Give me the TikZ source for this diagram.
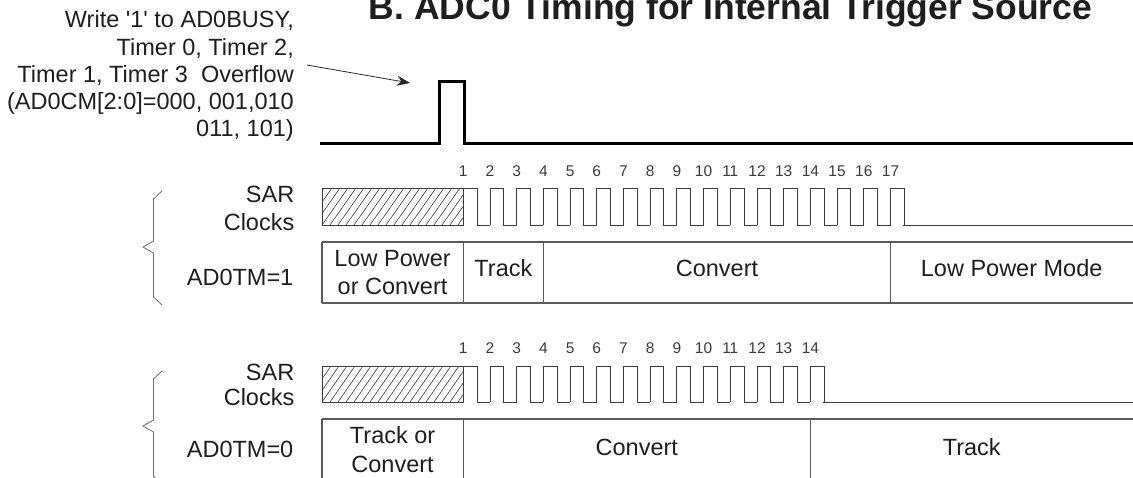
\documentclass[tikz,border=0pt]{standalone}
\usepackage{fontspec}
\setmainfont{Liberation Sans}
\usetikzlibrary{arrows.meta}
\definecolor{txt}{HTML}{1E1E1E}
\definecolor{numc}{HTML}{3A3A3A}
\definecolor{boxc}{HTML}{5A5A5A}
\definecolor{clkc}{HTML}{3C3C3C}
\definecolor{brc}{HTML}{6A6A6A}
\begin{document}
\begin{tikzpicture}[x=1pt,y=-1pt,
  lbl/.style={font=\fontsize{23.5}{27}\selectfont, text=txt, inner sep=0pt},
  ttl/.style={font=\fontsize{35.5}{40}\selectfont\bfseries, text=txt, inner sep=0pt},
  num/.style={font=\fontsize{15.5}{17}\selectfont, text=numc, inner sep=0pt, anchor=base},
  boxline/.style={draw=boxc, line width=1.3pt},
  clk/.style={draw=clkc, line width=1pt},
  hatch/.style={draw=clkc, line width=0.6pt},
  sig/.style={draw=black, line width=3pt},
  brace/.style={draw=brc, line width=0.8pt},
  arr/.style={draw=black!85, line width=0.8pt, -{Stealth[length=13pt,width=10pt]}}]
\useasboundingbox (0,0) rectangle (1133,477);
\clip (0,0) rectangle (1133,477);

% title (clipped at top, as in the reference)
\node[ttl, anchor=base] (title) at (730.5,19.5) {B. ADC0 Timing for Internal Trigger Source};

% trigger description
\node[lbl, anchor=base east] (w1) at (294,27.8) {Write \textquotesingle 1\textquotesingle\ to AD0BUSY,};
\node[lbl, anchor=base east] (w2) at (294,55) {Timer 0, Timer 2,};
\node[lbl, anchor=base east] (w3) at (294,82.2) {Timer 1, Timer 3\ \ Overflow};
\node[lbl, anchor=base east] (w4) at (294,109.4) {(AD0CM[2:0]=000, 001,010};
\node[lbl, anchor=base east] (w5) at (294,136.6) {011, 101)};

% arrow to pulse
\coordinate (arrS) at (307,65);
\coordinate (arrE) at (410,83);
\draw[arr] (arrS) -- (arrE);

% trigger signal
\coordinate (s0) at (320,143);
\coordinate (s1) at (439,143);
\coordinate (s2) at (439,81);
\coordinate (s3) at (464,81);
\coordinate (s4) at (464,143);
\coordinate (s5) at (1140,143);
\draw[sig, line join=miter] (s0) -- (s1) -- (s2) -- (s3) -- (s4) -- (s5);

% ---------- Row 1 : AD0TM=1 ----------
\node[lbl, anchor=base east] (sar1) at (294.5,202) {SAR};
\node[lbl, anchor=base east] (clk1) at (294.5,230) {Clocks};
\node[lbl, anchor=base east] (tm1) at (293.5,285) {AD0TM=1};
\draw[brace] (162,191) -- (153.5,199) -- (153.5,241) -- (143,247) -- (153.5,253) -- (153.5,297) -- (162,305);

\begin{scope}
  \clip (322,188) rectangle (463.3,225);
  \foreach \i in {-4,...,19} \draw[hatch] ({322+\i*8},225) -- ++(26,-37);
\end{scope}
\draw[clk] (322,188) rectangle (463.3,225);
\foreach \k in {0,...,16} {
  \draw[clk] ({463.3+\k*26.7},225) -- ({463.3+\k*26.7},188) -- ({477+\k*26.7},188) -- ({477+\k*26.7},225) -- ({490+\k*26.7},225);
}
\draw[clk] (903.2,225) -- (1140,225);
\foreach \k in {1,...,17} \node[num] (na\k) at ({463.3+(\k-1)*26.7},176) {\k};

\draw[boxline] (322,242) -- (1140,242);
\draw[boxline] (322,303) -- (1140,303);
\foreach \x in {322,463.3,543.4,890.5} \draw[boxline] (\x,242) -- (\x,303);
\node[lbl, align=center, font=\fontsize{23.5}{28.5}\selectfont] (a1) at (392.6,272.5) {Low Power\\or Convert};
\node[lbl] (a2) at (503.4,268.5) {Track};
\node[lbl] (a3) at (717,268.5) {Convert};
\node[lbl] (a4) at (1011.7,268.5) {Low Power Mode};

% ---------- Row 2 : AD0TM=0 ----------
\node[lbl, anchor=base east] (sar2) at (294.5,380) {SAR};
\node[lbl, anchor=base east] (clk2) at (294.5,405) {Clocks};
\node[lbl, anchor=base east] (tm2) at (293.5,457) {AD0TM=0};
\draw[brace] (162,371) -- (153.5,379) -- (153.5,420) -- (143,426) -- (153.5,432) -- (153.5,476) -- (162,485);

\begin{scope}
  \clip (322,366) rectangle (463.3,402);
  \foreach \i in {-4,...,19} \draw[hatch] ({322+\i*8},402) -- ++(25,-36);
\end{scope}
\draw[clk] (322,366) rectangle (463.3,402);
\foreach \k in {0,...,13} {
  \draw[clk] ({463.3+\k*26.7},402) -- ({463.3+\k*26.7},366) -- ({477+\k*26.7},366) -- ({477+\k*26.7},402) -- ({490+\k*26.7},402);
}
\draw[clk] (823.1,402) -- (1140,402);
\foreach \k in {1,...,14} \node[num] (nb\k) at ({463.3+(\k-1)*26.7},353) {\k};

\draw[boxline] (322,419) -- (1140,419);
\foreach \x in {322,463.3,810.4} \draw[boxline] (\x,419) -- (\x,485);
\node[lbl, align=center, font=\fontsize{23.5}{28.5}\selectfont] (b1) at (392.6,449.5) {Track or\\Convert};
\node[lbl] (b2) at (636.8,447) {Convert};
\node[lbl] (b3) at (971.7,447) {Track};
\end{tikzpicture}
\end{document}
